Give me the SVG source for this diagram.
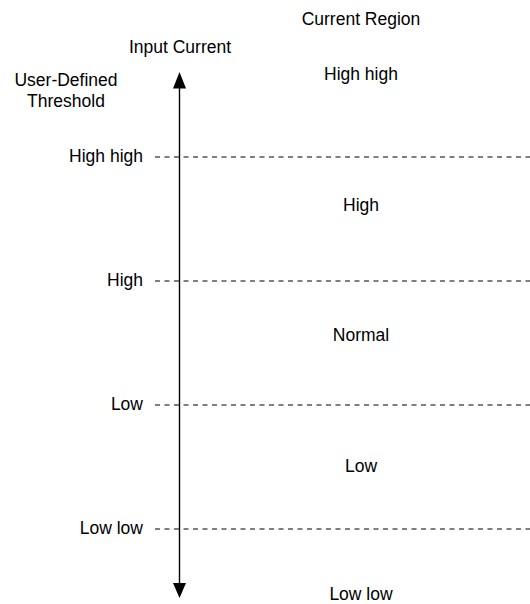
<svg xmlns="http://www.w3.org/2000/svg" width="530" height="604" viewBox="0 0 530 604">
<style>
text{font-family:"Liberation Sans",Arial,Helvetica,sans-serif;font-size:17.5px;fill:#000}
.c{text-anchor:middle}
.r{text-anchor:end}
.th{stroke:#000;stroke-width:1.1;stroke-dasharray:5 4.5;fill:none}
.ax{stroke:#000;stroke-width:1.4;fill:none}
</style>
<rect width="530" height="604" fill="#fff"/>
<g id="headers">
<text class="c" x="180" y="53">Input Current</text>
<text class="c" x="66" y="86">User-Defined</text>
<text class="c" x="66" y="106.5">Threshold</text>
<text class="c" x="361" y="25">Current Region</text>
</g>
<g id="connectors">
<line class="th" x1="155" y1="157" x2="530" y2="157"/>
<line class="th" x1="155" y1="281" x2="530" y2="281"/>
<line class="th" x1="155" y1="405" x2="530" y2="405"/>
<line class="th" x1="155" y1="529" x2="530" y2="529"/>
<line class="ax" x1="179.5" y1="86" x2="179.5" y2="585"/>
<polygon points="179.5,72 173,88.5 186,88.5" fill="#000"/>
<polygon points="179.5,598 173,583 186,583" fill="#000"/>
</g>
<g id="threshold-highhigh"><text class="r" x="143" y="162">High high</text></g>
<g id="threshold-high"><text class="r" x="143" y="286">High</text></g>
<g id="threshold-low"><text class="r" x="143" y="410">Low</text></g>
<g id="threshold-lowlow"><text class="r" x="143" y="534">Low low</text></g>
<g id="region-highhigh"><text class="c" x="361" y="80">High high</text></g>
<g id="region-high"><text class="c" x="361" y="211">High</text></g>
<g id="region-normal"><text class="c" x="361" y="341">Normal</text></g>
<g id="region-low"><text class="c" x="361" y="472">Low</text></g>
<g id="region-lowlow"><text class="c" x="361" y="600">Low low</text></g>
</svg>
